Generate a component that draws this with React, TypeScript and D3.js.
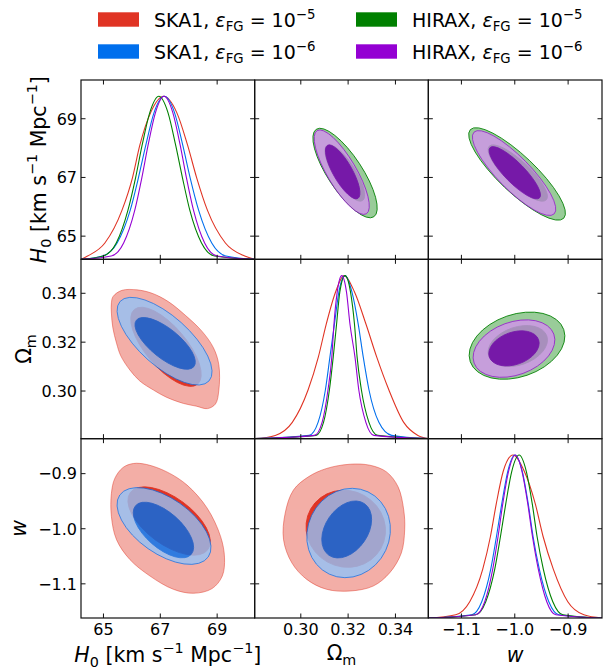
import React from 'react';
import * as d3 from 'd3';

// axis ranges and ticks (H0, Omega_m, w)
const h0Domain = [64.21, 70.32];
const omDomain = [0.2805, 0.3539];
const wDomain = [-1.162, -0.8365];
const h0Ticks = [65, 67, 69];
const omTicks = [0.3, 0.32, 0.34];
const wTicks = [-1.1, -1.0, -0.9];
const h0TickLabels = ['65', '67', '69'];
const omTickLabels = ['0.30', '0.32', '0.34'];
const wTickLabels = ['\u22121.1', '\u22121.0', '\u22120.9'];

// series: SKA1 1e-5, SKA1 1e-6, HIRAX 1e-5, HIRAX 1e-6
const surveys = ['SKA1', 'SKA1', 'HIRAX', 'HIRAX'];
const fgExponents = ['\u22125', '\u22126', '\u22125', '\u22126'];
const lineColors = ['#e03424', '#006fed', '#008000', '#9400d3'];
const outerFills = ['#f3aea7', '#93c2f8', '#99cc99', '#d293ec'];
const groupOpacity = [1, 0.8, 1, 0.8];

// 1D marginals: x where the curve crosses each relative height (left / right of the peak)
const densityLevels = [0.02, 0.1, 0.3, 0.5, 0.7, 0.9];
const h0Marginals = [
  { peak: 67.12, left: [64.44, 65.05, 65.65, 66.02, 66.28, 66.66], right: [69.97, 69.29, 68.66, 68.28, 67.96, 67.58] },
  { peak: 67.14, left: [64.97, 65.48, 65.94, 66.23, 66.49, 66.78], right: [69.31, 68.81, 68.35, 68.05, 67.79, 67.5] },
  { peak: 66.95, left: [64.99, 65.45, 65.86, 66.13, 66.36, 66.63], right: [68.91, 68.45, 68.04, 67.78, 67.54, 67.27] },
  { peak: 67.13, left: [65.27, 65.71, 66.1, 66.35, 66.57, 66.83], right: [69.0, 68.56, 68.17, 67.92, 67.7, 67.44] },
];
const omMarginals = [
  { peak: 0.3182, left: [0.2892, 0.2964, 0.3031, 0.3074, 0.3107, 0.3147], right: [0.3495, 0.3435, 0.3372, 0.3321, 0.3276, 0.3227] },
  { peak: 0.3187, left: [0.3035, 0.3073, 0.3104, 0.3123, 0.3142, 0.3161], right: [0.3384, 0.333, 0.3288, 0.3264, 0.3243, 0.3216] },
  { peak: 0.3187, left: [0.3064, 0.3096, 0.3121, 0.3137, 0.3151, 0.3165], right: [0.3325, 0.3288, 0.3256, 0.3238, 0.3227, 0.321] },
  { peak: 0.3173, left: [0.3058, 0.309, 0.3115, 0.3131, 0.314, 0.3154], right: [0.3309, 0.3275, 0.3245, 0.3229, 0.3208, 0.3193] },
];
const wMarginals = [
  { peak: -1.0032, left: [-1.1107, -1.0844, -1.06, -1.0456, -1.0347, -1.0216], right: [-0.8705, -0.9006, -0.9278, -0.9469, -0.9615, -0.9822] },
  { peak: -1.0, left: [-1.0807, -1.0619, -1.045, -1.0343, -1.0244, -1.0131], right: [-0.9174, -0.9362, -0.954, -0.9657, -0.9747, -0.9859] },
  { peak: -0.9919, left: [-1.0732, -1.0544, -1.0375, -1.0268, -1.0169, -1.0056], right: [-0.9099, -0.9287, -0.9465, -0.9582, -0.9672, -0.9784] },
  { peak: -0.9991, left: [-1.0732, -1.0563, -1.0413, -1.0313, -1.0225, -1.0116], right: [-0.9231, -0.94, -0.9559, -0.9668, -0.9756, -0.9865] },
];

// SKA1 1e-5 outer (95%) contours, traced outlines
const redOuterH0Om = [
  [65.34, 0.3387], [65.65, 0.3412], [66.18, 0.3414], [66.71, 0.34], [67.28, 0.3366], [67.88, 0.331],
  [68.47, 0.3244], [68.87, 0.3177], [69.06, 0.3107], [69.06, 0.3004], [68.94, 0.2947], [68.66, 0.2928],
  [68.27, 0.2938], [67.82, 0.2949], [67.21, 0.2975], [66.76, 0.3004], [66.28, 0.3041], [65.93, 0.3086],
  [65.61, 0.3144], [65.46, 0.3196], [65.33, 0.3259], [65.28, 0.3319], [65.28, 0.3361],
];
const redOuterH0W = [
  [65.28, -0.9357], [65.4, -0.9086], [65.69, -0.8888], [66.05, -0.8816], [66.52, -0.8834], [67.23, -0.8968],
  [67.94, -0.9207], [68.65, -0.9627], [69.12, -1.0139], [69.26, -1.0528], [69.18, -1.0859], [68.82, -1.1086],
  [68.17, -1.1171], [67.46, -1.1099], [66.64, -1.0859], [65.93, -1.0559], [65.46, -1.0198], [65.28, -0.9778],
];
const redOuterOmW = [
  [0.2927, -1.0198], [0.2934, -0.9717], [0.2969, -0.9297], [0.3032, -0.9058], [0.3109, -0.8906], [0.3208, -0.8829],
  [0.3292, -0.8847], [0.3362, -0.8968], [0.3411, -0.9238], [0.3435, -0.9658], [0.3439, -1.0018], [0.3425, -1.0438],
  [0.3376, -1.0798], [0.3306, -1.104], [0.3208, -1.113], [0.3109, -1.1099], [0.3025, -1.0919], [0.2962, -1.0618],
];

// ellipse contours: [cx, cy, half-width x, half-height y, correlation]
// SKA1: red 68%, blue 95%, blue 68%
const skaH0Om = [
  [67.2, 0.3181, 1.24, 0.0162, -0.7],
  [67.15, 0.3204, 1.671, 0.01795, -0.7],
  [67.17, 0.3195, 1.062, 0.0106, -0.72],
];
const skaH0W = [
  [67.31, -0.986, 1.45, 0.062, -0.6],
  [67.13, -0.995, 1.653, 0.0697, -0.56],
  [67.11, -1.0023, 1.062, 0.0505, -0.62],
];
const skaOmW = [
  [0.319, -1.0, 0.0168, 0.07, -0.05],
  [0.3202, -1.0077, 0.01768, 0.0811, 0.08],
  [0.3194, -1.0013, 0.01053, 0.0517, 0.35],
];
// HIRAX: green 95%, green 68%, purple 95%, purple 68%
const hiraxOmH0 = [
  [0.3187, 67.15, 0.0136, 1.525, -0.78],
  [0.3186, 67.15, 0.0084, 0.96, -0.78],
  [0.3173, 67.18, 0.01165, 1.44, -0.8],
  [0.3177, 67.19, 0.0073, 0.92, -0.78],
];
const hiraxWH0 = [
  [-0.9957, 67.12, 0.0907, 1.576, -0.85],
  [-0.9944, 67.15, 0.0557, 0.96, -0.83],
  [-1.0013, 67.15, 0.0782, 1.446, -0.85],
  [-1.0, 67.16, 0.0482, 0.89, -0.85],
];
const hiraxWOm = [
  [-0.9958, 0.31856, 0.0897, 0.01376, 0.28],
  [-0.9944, 0.3184, 0.0557, 0.0084, 0.3],
  [-1.0015, 0.31737, 0.0766, 0.01177, 0.3],
  [-1.0015, 0.31745, 0.0472, 0.00719, 0.3],
];

const W = 606;
const H = 670;
const L = 81;
const R = 602;
const T = 80;
const B = 618;
const pw = (R - L) / 3;
const ph = (B - T) / 3;
const FONT = 'DejaVu Sans, sans-serif';

function Ellipse({ e, sx, sy, fill, stroke }) {
  const [mx, my, hx, hy, rho] = e;
  const cx = sx(mx);
  const cy = sy(my);
  const a = Math.abs(sx(mx + hx) - cx);
  const b = Math.abs(sy(my + hy) - cy);
  const sxy = -rho * a * b;
  const mean = (a * a + b * b) / 2;
  const diff = Math.sqrt(((a * a - b * b) / 2) ** 2 + sxy * sxy);
  const rx = Math.sqrt(mean + diff);
  const ry = Math.sqrt(Math.max(mean - diff, 0.01));
  const ang = (0.5 * Math.atan2(2 * sxy, a * a - b * b) * 180) / Math.PI;
  return (
    <ellipse cx={cx} cy={cy} rx={rx} ry={ry} transform={`rotate(${ang} ${cx} ${cy})`}
      fill={fill} stroke={stroke} strokeWidth={0.8} />
  );
}

function curvePoints(m, domain) {
  const pts = [[domain[0], 0]];
  m.left.forEach((x, k) => pts.push([x, densityLevels[k]]));
  pts.push([m.peak, 1]);
  for (let k = densityLevels.length - 1; k >= 0; k--) pts.push([m.right[k], densityLevels[k]]);
  pts.push([domain[1], 0]);
  return pts;
}

function H0Label({ size }) {
  const s = size * 0.7;
  return (
    <>
      <tspan fontStyle="italic">H</tspan>
      <tspan fontSize={s} dy={size * 0.22}>0</tspan>
      <tspan dy={-size * 0.22}>{' [km s'}</tspan>
      <tspan fontSize={s} dy={-size * 0.42}>{'\u22121'}</tspan>
      <tspan dy={size * 0.42}>{' Mpc'}</tspan>
      <tspan fontSize={s} dy={-size * 0.42}>{'\u22121'}</tspan>
      <tspan dy={size * 0.42}>]</tspan>
    </>
  );
}

function OmLabel({ size }) {
  return (
    <>
      <tspan>Ω</tspan>
      <tspan fontSize={size * 0.7} dy={size * 0.22}>m</tspan>
    </>
  );
}

function WLabel() {
  return <tspan fontStyle="italic">w</tspan>;
}

export default function App() {
  const domains = [h0Domain, omDomain, wDomain];
  const ticks = [h0Ticks, omTicks, wTicks];
  const tickLabels = [h0TickLabels, omTickLabels, wTickLabels];
  const marginals = [h0Marginals, omMarginals, wMarginals];
  const xs = domains.map((d, i) => d3.scaleLinear().domain(d).range([L + i * pw, L + (i + 1) * pw]));
  const ys = domains.map((d, j) => d3.scaleLinear().domain(d).range([T + (j + 1) * ph, T + j * ph]));
  const dens = [0, 1, 2].map((j) => d3.scaleLinear().domain([0, 1.1]).range([T + (j + 1) * ph, T + j * ph]));

  const lowerPanels = [
    { c: 0, r: 1, outer: redOuterH0Om, ell: skaH0Om },
    { c: 0, r: 2, outer: redOuterH0W, ell: skaH0W },
    { c: 1, r: 2, outer: redOuterOmW, ell: skaOmW },
  ];
  const upperPanels = [
    { c: 1, r: 0, ell: hiraxOmH0 },
    { c: 2, r: 0, ell: hiraxWH0 },
    { c: 2, r: 1, ell: hiraxWOm },
  ];
  const cells = [];
  for (let r = 0; r < 3; r++) for (let c = 0; c < 3; c++) cells.push({ r, c });

  const tickLen = 4.5;
  const tickFs = 16;
  const labFs = 20.5;
  const legFs = 19;
  const labelComps = [H0Label, OmLabel, WLabel];
  const yLabelX = [46, 31, 26];
  const xLabelY = [662, 660, 662];

  return (
    <svg width={W} height={H} style={{ position: 'absolute', left: 0, top: 0, background: '#fff' }}
      fontFamily={FONT}>
      <defs>
        {cells.map(({ r, c }) => (
          <clipPath key={`cp${r}${c}`} id={`clip-${r}-${c}`}>
            <rect x={L + c * pw} y={T + r * ph} width={pw} height={ph} />
          </clipPath>
        ))}
      </defs>
      <rect x={0} y={0} width={W} height={H} fill="#fff" />

      {/* lower triangle: SKA1 */}
      {lowerPanels.map((p) => {
        const sx = xs[p.c];
        const sy = ys[p.r];
        const line = d3.line().x((d) => sx(d[0])).y((d) => sy(d[1])).curve(d3.curveCatmullRomClosed.alpha(0.5));
        return (
          <g key={`lp${p.r}${p.c}`} clipPath={`url(#clip-${p.r}-${p.c})`}>
            <g>
              <path d={line(p.outer)} fill={outerFills[0]} stroke={lineColors[0]} strokeWidth={0.8} strokeOpacity={0.6} />
              <Ellipse e={p.ell[0]} sx={sx} sy={sy} fill={lineColors[0]} stroke={lineColors[0]} />
            </g>
            <g opacity={groupOpacity[1]}>
              <Ellipse e={p.ell[1]} sx={sx} sy={sy} fill={outerFills[1]} stroke={lineColors[1]} />
              <Ellipse e={p.ell[2]} sx={sx} sy={sy} fill={lineColors[1]} stroke={lineColors[1]} />
            </g>
          </g>
        );
      })}

      {/* upper triangle: HIRAX */}
      {upperPanels.map((p) => {
        const sx = xs[p.c];
        const sy = ys[p.r];
        return (
          <g key={`up${p.r}${p.c}`} clipPath={`url(#clip-${p.r}-${p.c})`}>
            <g>
              <Ellipse e={p.ell[0]} sx={sx} sy={sy} fill={outerFills[2]} stroke={lineColors[2]} />
              <Ellipse e={p.ell[1]} sx={sx} sy={sy} fill={lineColors[2]} stroke={lineColors[2]} />
            </g>
            <g opacity={groupOpacity[3]}>
              <Ellipse e={p.ell[2]} sx={sx} sy={sy} fill={outerFills[3]} stroke={lineColors[3]} />
              <Ellipse e={p.ell[3]} sx={sx} sy={sy} fill={lineColors[3]} stroke={lineColors[3]} />
            </g>
          </g>
        );
      })}

      {/* diagonal: 1D marginals */}
      {[0, 1, 2].map((i) => {
        const line = d3.line().x((d) => xs[i](d[0])).y((d) => dens[i](d[1])).curve(d3.curveMonotoneX);
        return (
          <g key={`dg${i}`} clipPath={`url(#clip-${i}-${i})`}>
            {marginals[i].map((m, k) => (
              <path key={k} d={line(curvePoints(m, domains[i]))} fill="none" stroke={lineColors[k]} strokeWidth={1.1} />
            ))}
          </g>
        );
      })}

      {/* frames and ticks */}
      {cells.map(({ r, c }) => {
        const x0 = L + c * pw;
        const y0 = T + r * ph;
        return (
          <g key={`fr${r}${c}`} stroke="#111" strokeWidth={1}>
            {ticks[c].map((t) => (
              <g key={`xt${t}`}>
                <line x1={xs[c](t)} x2={xs[c](t)} y1={y0 + ph} y2={y0 + ph - tickLen} />
                <line x1={xs[c](t)} x2={xs[c](t)} y1={y0} y2={y0 + tickLen} />
              </g>
            ))}
            {ticks[r].map((t) => (
              <g key={`yt${t}`}>
                <line x1={x0} x2={x0 + tickLen} y1={ys[r](t)} y2={ys[r](t)} />
                <line x1={x0 + pw} x2={x0 + pw - tickLen} y1={ys[r](t)} y2={ys[r](t)} />
              </g>
            ))}
            <rect x={x0} y={y0} width={pw} height={ph} fill="none" strokeWidth={1.2} />
          </g>
        );
      })}

      {/* tick labels */}
      {[0, 1, 2].map((i) => (
        <g key={`tl${i}`} fontSize={tickFs} fill="#000">
          {ticks[i].map((t, k) => (
            <text key={`x${k}`} x={xs[i](t)} y={635} textAnchor="middle">{tickLabels[i][k]}</text>
          ))}
          {ticks[i].map((t, k) => (
            <text key={`y${k}`} x={77} y={ys[i](t) + 5.8} textAnchor="end">{tickLabels[i][k]}</text>
          ))}
        </g>
      ))}

      {/* axis labels */}
      {[0, 1, 2].map((i) => {
        const Comp = labelComps[i];
        const cx = L + (i + 0.5) * pw;
        const cy = T + (i + 0.5) * ph;
        return (
          <g key={`al${i}`} fontSize={labFs} fill="#000" style={{ whiteSpace: 'pre' }}>
            <text x={cx} y={xLabelY[i]} textAnchor="middle"><Comp size={labFs} /></text>
            <text transform={`translate(${yLabelX[i]},${cy}) rotate(-90)`} textAnchor="middle"><Comp size={labFs} /></text>
          </g>
        );
      })}

      {/* legend */}
      {surveys.map((s, k) => {
        const col = Math.floor(k / 2);
        const row = k % 2;
        const px = col === 0 ? 98 : 356;
        const py = row === 0 ? 12.3 : 44.3;
        const tx = col === 0 ? 154 : 412;
        const ty = row === 0 ? 26.7 : 58.7;
        return (
          <g key={`lg${k}`}>
            <rect x={px} y={py} width={41} height={14.4} fill={lineColors[k]} />
            <text x={tx} y={ty} fontSize={legFs} fill="#000" style={{ whiteSpace: 'pre' }}>
              <tspan>{`${s}, `}</tspan>
              <tspan fontStyle="italic">ε</tspan>
              <tspan fontSize={legFs * 0.7} dy={legFs * 0.22}>FG</tspan>
              <tspan dy={-legFs * 0.22}>{' = 10'}</tspan>
              <tspan fontSize={legFs * 0.7} dy={-legFs * 0.42}>{fgExponents[k]}</tspan>
            </text>
          </g>
        );
      })}
    </svg>
  );
}
